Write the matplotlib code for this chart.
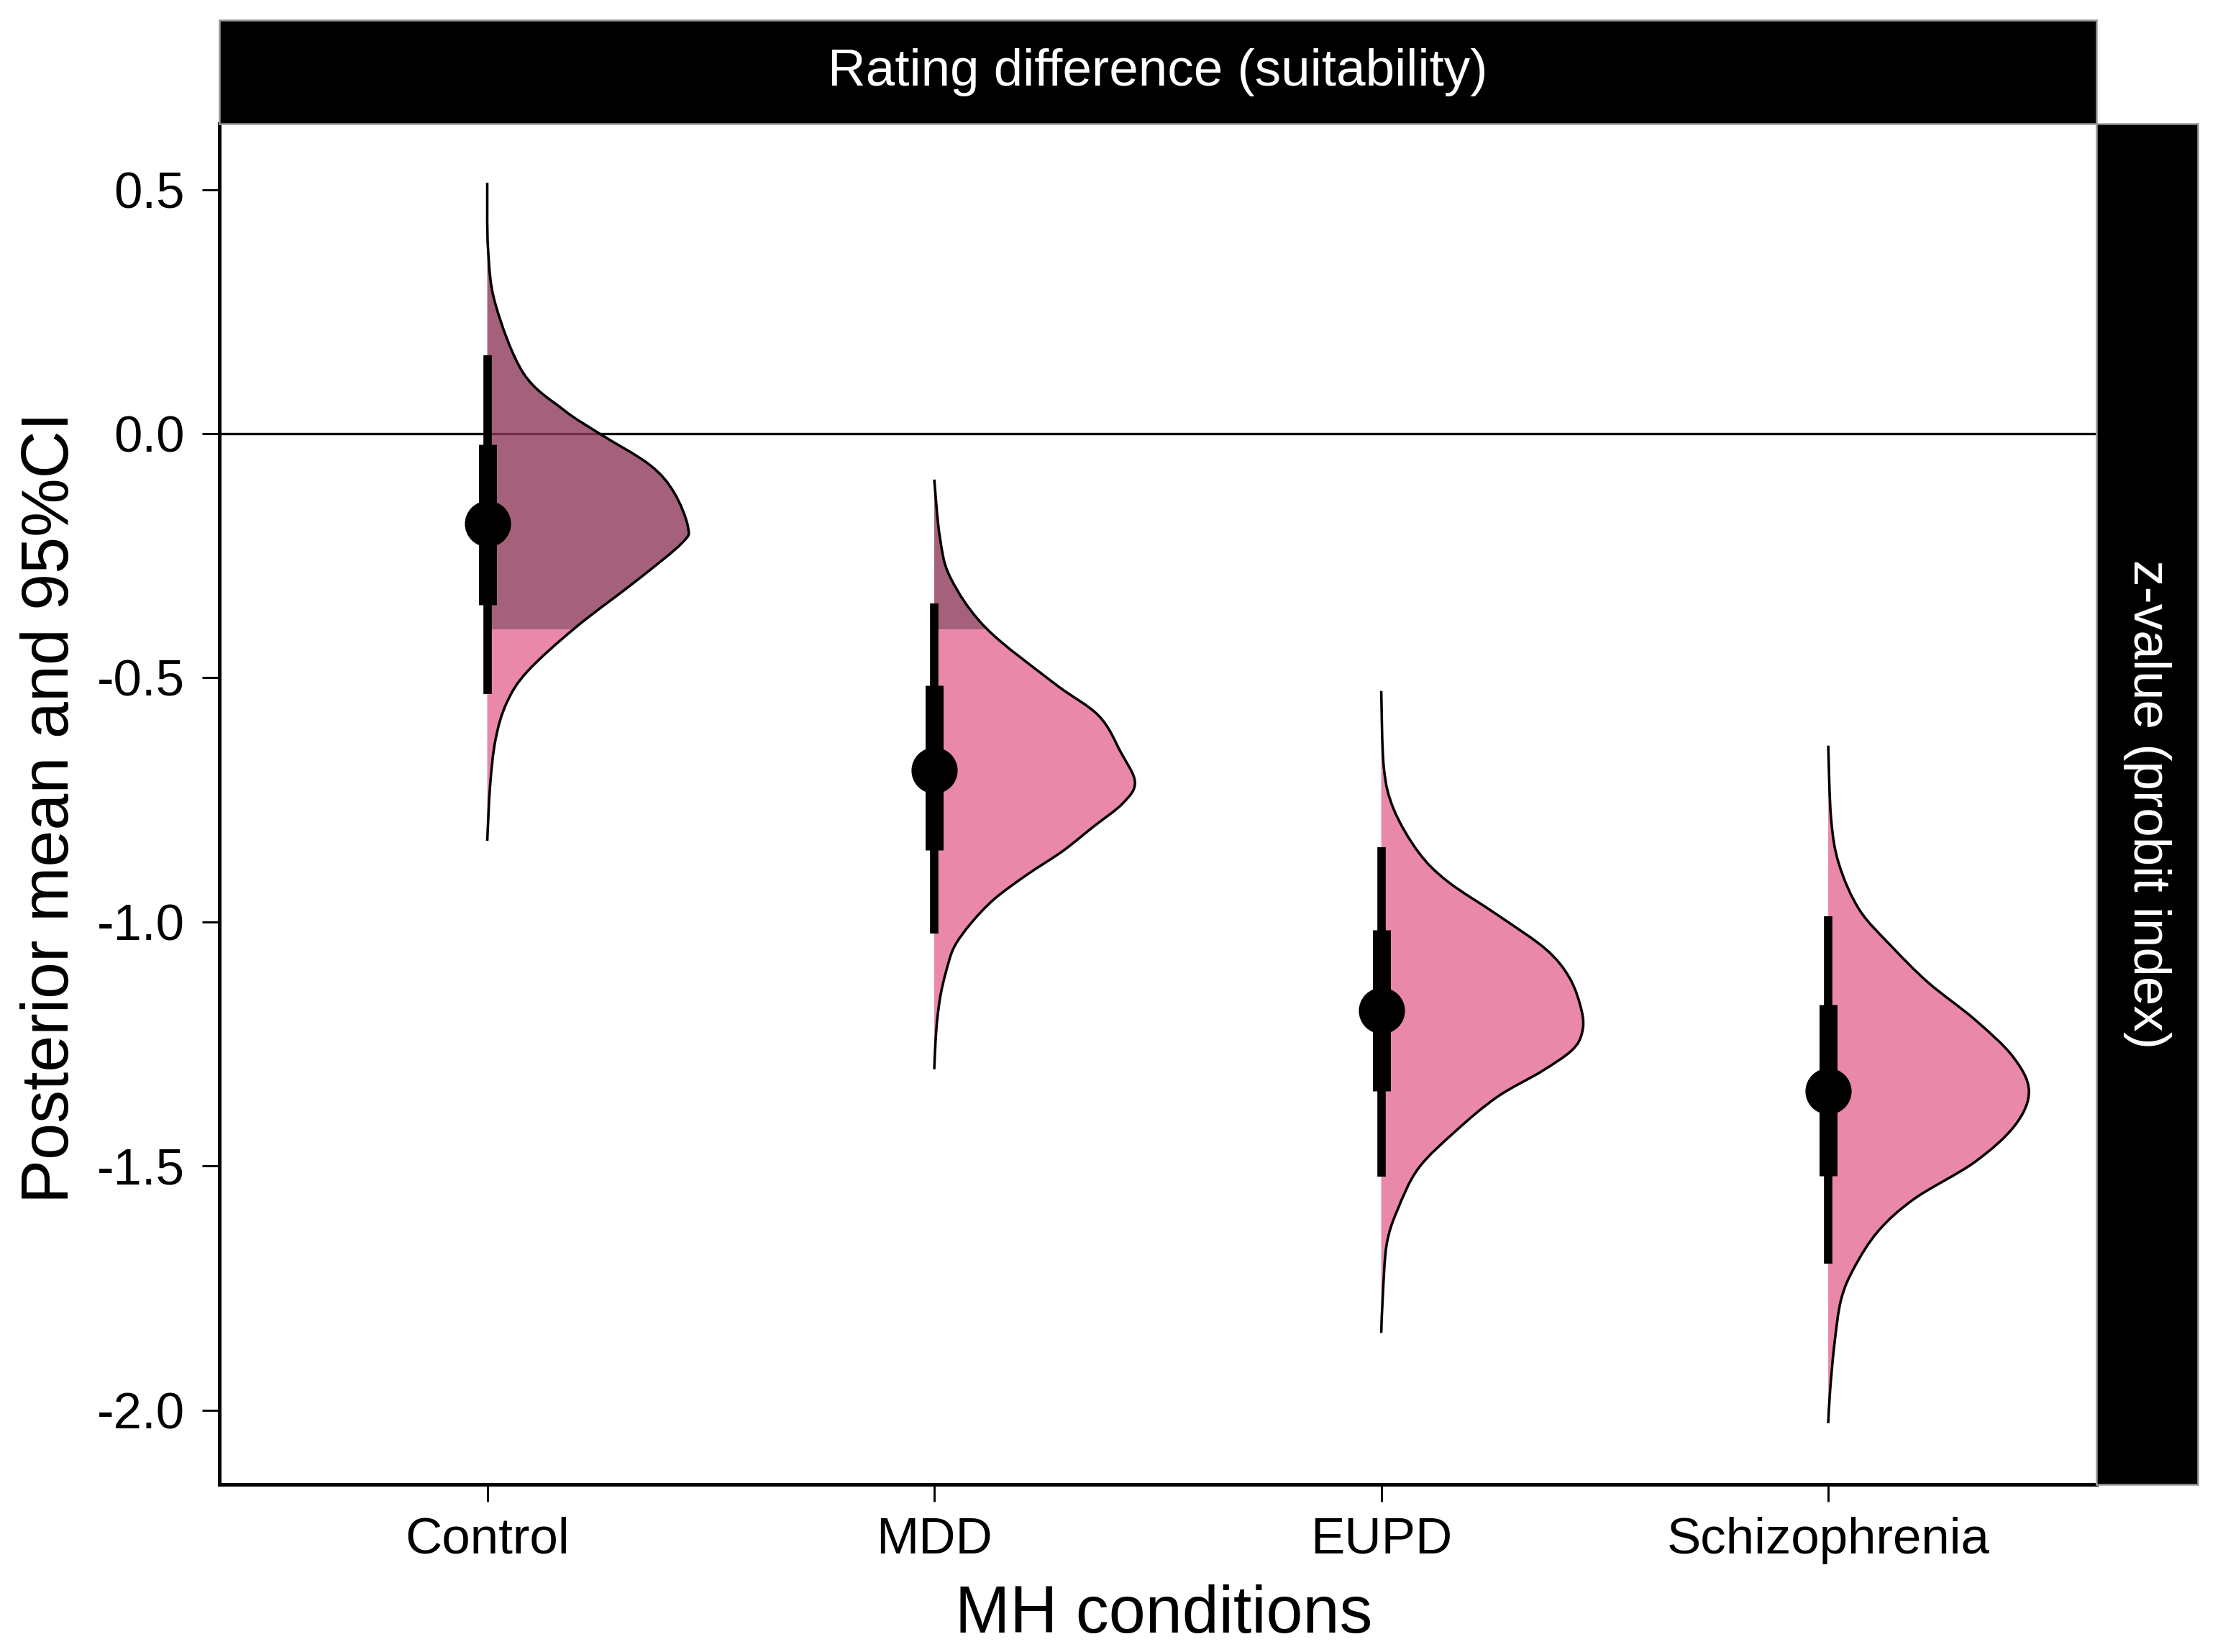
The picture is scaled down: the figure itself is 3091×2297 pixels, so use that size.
import numpy as np
import matplotlib
matplotlib.use("Agg")
import matplotlib.pyplot as plt
from matplotlib.path import Path
from matplotlib.patches import PathPatch, Rectangle

plt.rcParams['font.family'] = ['Liberation Sans', 'DejaVu Sans']

# categories on the x axis
conditions = ["Control", "MDD", "EUPD", "Schizophrenia"]

# posterior density profiles: y value and relative width (peak = 1)
control_y = [0.514, 0.378, 0.265, 0.124, 0.049, 0.0, -0.064, -0.120, -0.191, -0.224,
             -0.299, -0.397, -0.487, -0.552, -0.627, -0.722, -0.834]
control_d = [0.0, 0.004, 0.041, 0.18, 0.38, 0.56, 0.81, 0.93, 1.0, 0.97,
             0.75, 0.44, 0.20, 0.096, 0.041, 0.014, 0.0]

mdd_y = [-0.094, -0.212, -0.296, -0.399, -0.512, -0.578, -0.653, -0.714, -0.757,
         -0.806, -0.855, -0.904, -0.953, -1.002, -1.051, -1.100, -1.149, -1.199,
         -1.248, -1.302]
mdd_d = [0.0, 0.028, 0.082, 0.26, 0.60, 0.82, 0.93, 1.0, 0.94,
         0.79, 0.64, 0.46, 0.30, 0.185, 0.10, 0.06, 0.032, 0.015,
         0.006, 0.0]

eupd_y = [-0.527, -0.684, -0.770, -0.857, -0.917, -0.986, -1.056, -1.116, -1.185, -1.228,
          -1.263, -1.306, -1.358, -1.427, -1.505, -1.591, -1.661, -1.764, -1.842]
eupd_d = [0.0, 0.013, 0.063, 0.185, 0.33, 0.58, 0.82, 0.94, 1.0, 1.0,
          0.95, 0.80, 0.58, 0.375, 0.185, 0.08, 0.027, 0.008, 0.0]

schizo_y = [-0.639, -0.787, -0.881, -0.975, -1.050, -1.125, -1.200, -1.276, -1.346,
            -1.417, -1.492, -1.567, -1.633, -1.708, -1.774, -1.868, -1.962, -2.027]
schizo_d = [0.0, 0.014, 0.053, 0.155, 0.315, 0.50, 0.73, 0.92, 1.0,
            0.93, 0.73, 0.43, 0.25, 0.13, 0.064, 0.03, 0.009, 0.0]

# point estimate and intervals (66% thick, 95% thin)
post_mean = [-0.184, -0.689, -1.181, -1.346]
ci66_low = [-0.351, -0.853, -1.347, -1.520]
ci66_high = [-0.022, -0.515, -1.017, -1.170]
ci95_low = [-0.534, -1.024, -1.522, -1.700]
ci95_high = [0.161, -0.348, -0.847, -0.989]

rope_cut = -0.4

dens_y = [control_y, mdd_y, eupd_y, schizo_y]
dens_d = [control_d, mdd_d, eupd_d, schizo_d]

pink = "#E56A94"
dark = "#8F3A5A"
slab_alpha = 0.8
slab_scale = 0.449


def smooth_path(xs, ys):
    # cubic bezier through the read points (catmull-rom style handles)
    pts = np.column_stack([xs, ys])
    verts = [pts[0]]
    codes = [Path.MOVETO]
    n = len(pts)
    for i in range(n - 1):
        p0 = pts[i - 1] if i > 0 else pts[i]
        p1 = pts[i]
        p2 = pts[i + 1]
        p3 = pts[i + 2] if i + 2 < n else pts[i + 1]
        c1 = p1 + (p2 - p0) / 6.0
        c2 = p2 - (p3 - p1) / 6.0
        verts += [c1, c2, p2]
        codes += [Path.CURVE4] * 3
    return verts, codes


W, H = 3091, 2297
fig = plt.figure(figsize=(W / 300, H / 300), dpi=300)

left, right = 304.6 / W, 2915 / W
bottom, top = 1 - 2064.4 / H, 1 - 172 / H
ax = fig.add_axes([left, bottom, right - left, top - bottom])

ax.axhline(0, color="black", lw=0.8, zorder=1)

for i, cond in enumerate(conditions):
    pos = i + 1
    ys = np.array(dens_y[i])
    xs = pos + slab_scale * np.array(dens_d[i])
    verts, codes = smooth_path(xs, ys)
    outline = Path(verts, codes)
    verts_f = verts + [(pos, ys[-1]), (pos, ys[0]), (pos, ys[0])]
    codes_f = codes + [Path.LINETO, Path.LINETO, Path.CLOSEPOLY]
    shape = Path(verts_f, codes_f)

    hi = PathPatch(shape, facecolor=dark, edgecolor="none", alpha=slab_alpha, zorder=2)
    ax.add_patch(hi)
    clip_hi = Rectangle((pos - 0.5, rope_cut), 1.0, 3.0, transform=ax.transData)
    hi.set_clip_path(clip_hi)

    lo = PathPatch(shape, facecolor=pink, edgecolor="none", alpha=slab_alpha, zorder=2)
    ax.add_patch(lo)
    clip_lo = Rectangle((pos - 0.5, rope_cut - 3.0), 1.0, 3.0, transform=ax.transData)
    lo.set_clip_path(clip_lo)

    ax.add_patch(PathPatch(outline, facecolor="none", edgecolor="black", lw=0.85, zorder=3))

    ax.plot([pos, pos], [ci95_low[i], ci95_high[i]], color="black", lw=2.8,
            solid_capstyle="butt", zorder=4)
    ax.plot([pos, pos], [ci66_low[i], ci66_high[i]], color="black", lw=6.0,
            solid_capstyle="butt", zorder=4)
    ax.plot(pos, post_mean[i], "o", color="black", ms=14.4, zorder=5)

ax.set_xlim(0.4, 4.6)
ax.set_ylim(-2.153, 0.635)
ax.set_xticks(range(1, 5))
ax.set_xticklabels(conditions)
ax.set_yticks([0.5, 0.0, -0.5, -1.0, -1.5, -2.0])
ax.set_yticklabels(["0.5", "0.0", "-0.5", "-1.0", "-1.5", "-2.0"])
ax.tick_params(axis="both", length=5.7, width=0.7, labelsize=17, colors="black")
ax.tick_params(axis="y", pad=5.8)
ax.tick_params(axis="x", pad=5.0)
for s in ["top", "right"]:
    ax.spines[s].set_visible(False)
for s in ["left", "bottom"]:
    ax.spines[s].set_linewidth(1.2)

fig.text(0.0307, 0.511, "Posterior mean and 95%CI", rotation=90, rotation_mode="anchor",
         ha="center", va="baseline", fontsize=22)
fig.text(0.5235, 1 - 2270 / H, "MH conditions", ha="center", va="baseline", fontsize=22)

# facet strips
strip_top = fig.add_axes([left, top, right - left, (172 - 28) / H])
strip_top.set_facecolor("black")
strip_top.set_xticks([])
strip_top.set_yticks([])
for s in strip_top.spines.values():
    s.set_color("#999999")
    s.set_linewidth(0.6)
strip_top.text(0.5, 0.5, "Rating difference (suitability)", color="white", fontsize=17.5,
               ha="center", va="center", transform=strip_top.transAxes)

strip_right = fig.add_axes([right, bottom, (3056 - 2915) / W, top - bottom])
strip_right.set_facecolor("black")
strip_right.set_xticks([])
strip_right.set_yticks([])
for s in strip_right.spines.values():
    s.set_color("#999999")
    s.set_linewidth(0.6)
strip_right.text(0.5, 0.5, "z-value (probit index)", color="white", fontsize=17.5,
                 rotation=-90, ha="center", va="center", transform=strip_right.transAxes)

fig.savefig("out.png", dpi=300, facecolor="white")
